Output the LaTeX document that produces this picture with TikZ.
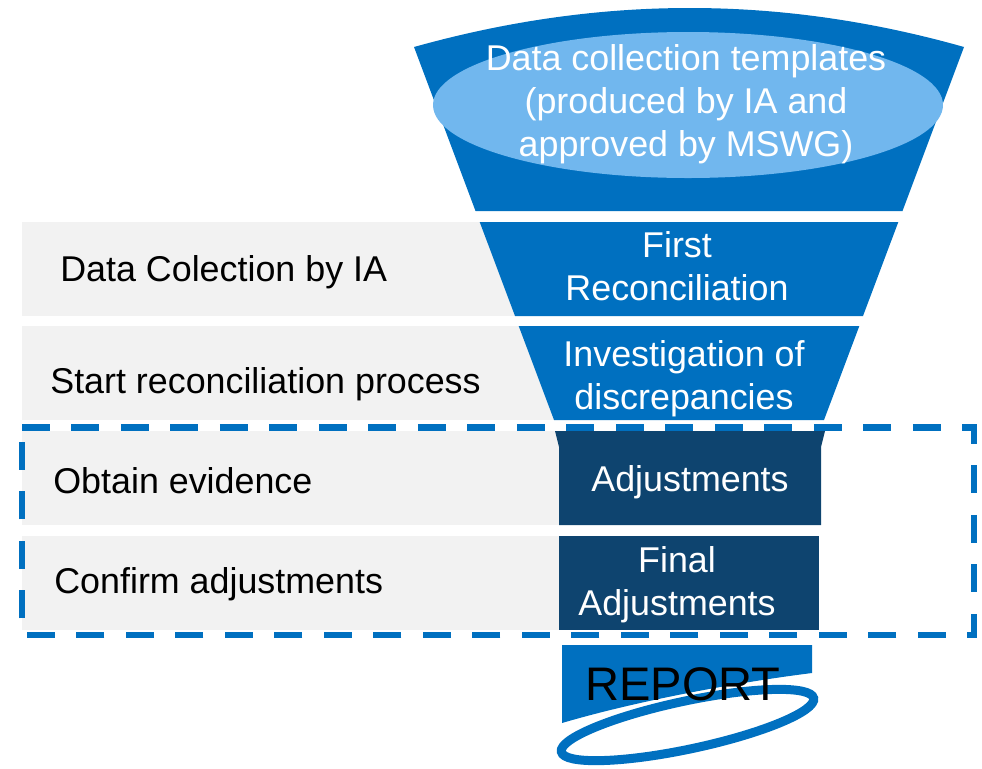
\documentclass[tikz,border=0pt]{standalone}
\usepackage{fontspec}
\setmainfont{Liberation Sans}
\usepackage{tikz}
\usetikzlibrary{positioning,calc}
\usepackage{xcolor}

\definecolor{funnelblue}{HTML}{0070C0}
\definecolor{ovalblue}{HTML}{71B7EE}
\definecolor{navyblue}{HTML}{0E446F}
\definecolor{bargray}{HTML}{F2F2F2}

\tikzset{
  steptext/.style={font=\fontsize{20.4}{24.4}\selectfont, text=white, align=center, inner sep=0pt},
  sidetext/.style={font=\fontsize{20.4}{24.4}\selectfont, text=black, anchor=base west, inner sep=0pt},
}

\begin{document}
\begin{tikzpicture}[x=0.02cm, y=-0.02cm]
    \useasboundingbox (0,0) rectangle (982,768);

    % Gray bars on the left (drawn first, funnel covers their right ends)
    \fill[bargray] (22,222) rectangle (560,316);
    \fill[bargray] (22,326) rectangle (560,420);
    \fill[bargray] (22,431) rectangle (559,525);
    \fill[bargray] (22,536) rectangle (559,630);

    % Funnel - top segment with oval
    \fill[funnelblue] (414,47) .. controls (600,-5) and (780,-5) .. (964,47)
        -- (902.5,211) -- (475.5,211) -- cycle;
    \fill[ovalblue] (688,105) ellipse (255 and 73);
    \node[steptext] (templates) at (686,104) {Data collection templates\\(produced by IA and\\approved by MSWG)};

    % Funnel - second and third segments
    \fill[funnelblue] (479.7,222) -- (898.3,222) -- (863,316) -- (515,316) -- cycle;
    \node[steptext] (firstrec) at (677,266) {First\\Reconciliation};

    \fill[funnelblue] (518.7,326) -- (859.3,326) -- (824,420) -- (554,420) -- cycle;
    \node[steptext] (investigate) at (684,379) {Investigation of\\discrepancies};

    % Dark boxes
    \fill[navyblue] (555,431) -- (825,431) -- (821,447) -- (821,525) -- (559,525) -- (559,447) -- cycle;
    \node[steptext] (adjust) at (690,482) {Adjustments};

    \fill[navyblue] (559,536) rectangle (819,630);
    \node[steptext] (finaladjust) at (677,585) {Final\\Adjustments};

    % Left labels
    \node[sidetext] (collect) at (60,281) {Data Colection by IA};
    \node[sidetext] (startrec) at (50,393) {Start reconciliation process};
    \node[sidetext] (evidence) at (53,493) {Obtain evidence};
    \node[sidetext] (confirm) at (54,593) {Confirm adjustments};

    % Dashed frame round the last two steps
    \draw[funnelblue, line width=0.13cm, dash pattern=on 0.56cm off 0.43cm]
        (22,427.5) -- (974,427.5) -- (974,635) -- (22,635) -- cycle;

    % Report with its ring
    \fill[funnelblue] (562,645) -- (812,645) -- (812,673) .. controls (740,682) and (640,700) .. (562,723) -- cycle;
    \draw[funnelblue, line width=0.18cm, rotate around={12:(687.5,725)}] (687.5,725) ellipse (129 and 24);
    \node[font=\fontsize{26.8}{32}\selectfont, inner sep=0pt] (report) at (683,684) {REPORT};
\end{tikzpicture}
\end{document}
